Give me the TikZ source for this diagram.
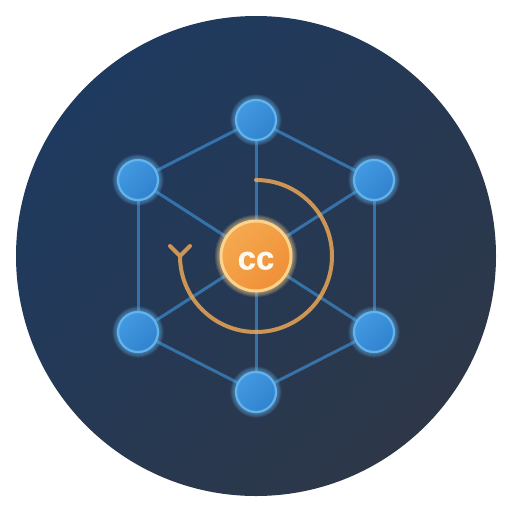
\documentclass[tikz,border=0pt]{standalone}
\usepackage{fontspec}
\setmainfont{Liberation Sans}[BoldFeatures={FakeBold=0.6}]
\definecolor{bgA}{HTML}{1E3A5F}
\definecolor{bgB}{HTML}{2D3748}
\definecolor{nodeA}{HTML}{4299E1}
\definecolor{nodeB}{HTML}{3182CE}
\definecolor{nodeRim}{HTML}{63B3ED}
\definecolor{hubA}{HTML}{F5A94F}
\definecolor{hubB}{HTML}{EF9038}
\definecolor{hubRim}{HTML}{FBD38D}
\definecolor{hubLine}{HTML}{F6AD55}
\definecolor{ink}{HTML}{FFFAF0}
\tikzset{
  link/.style={draw=nodeA,opacity=.6,line width=3pt},
  loopline/.style={draw=hubLine,opacity=.8,line width=4pt,line cap=round,line join=round},
  dot/.style={circle,inner sep=0pt,minimum size=40pt,draw=nodeRim,line width=2.2pt,shade,left color=nodeA,right color=nodeB,shading angle=45},
  hub/.style={circle,inner sep=0pt,minimum size=70pt,draw=hubRim,line width=3pt,shade,left color=hubA,right color=hubB,shading angle=45,text=ink,font=\bfseries\fontsize{33}{33}\selectfont},
}
\newcommand{\glowat}[4]{%
  \foreach \k in {1,...,8}{\fill[#4,opacity=.085] (#1,#2) circle ({#3+\k*0.6pt});}}
\begin{document}
\begin{tikzpicture}[x=1pt,y=-1pt]
\useasboundingbox (0,0) rectangle (512,512);
\fill[white] (0,0) rectangle (512,512);
\shade[left color=bgA,right color=bgB,shading angle=45] (256,256) circle (240pt);
\coordinate (a) at (256,120);
\coordinate (b) at (374,180);
\coordinate (c) at (374,332);
\coordinate (d) at (256,392);
\coordinate (e) at (138,332);
\coordinate (f) at (138,180);
\coordinate (m) at (256,256);
\foreach \p/\q in {a/b,b/c,c/d,d/e,e/f,f/a,a/m,b/m,c/m,d/m,e/m,f/m}{\draw[link] (\p) -- (\q);}
\foreach \x/\y in {256/120,374/180,374/332,256/392,138/332,138/180}{\glowat{\x}{\y}{21pt}{nodeRim}}
\glowat{256}{256}{36.5pt}{hubRim}
\node[dot] (n1) at (a) {};
\node[dot] (n2) at (b) {};
\node[dot] (n3) at (c) {};
\node[dot] (n4) at (d) {};
\node[dot] (n5) at (e) {};
\node[dot] (n6) at (f) {};
\node[hub] (core) at (m) {\raisebox{-13.5pt}[0pt][0pt]{cc}};
\coordinate (arcstart) at (256,180);
\draw[loopline] (arcstart) arc[start angle=90,delta angle=-270,radius=76pt] -- +(-10,-10) +(0,0) -- +(10,-10);
\end{tikzpicture}
\end{document}
